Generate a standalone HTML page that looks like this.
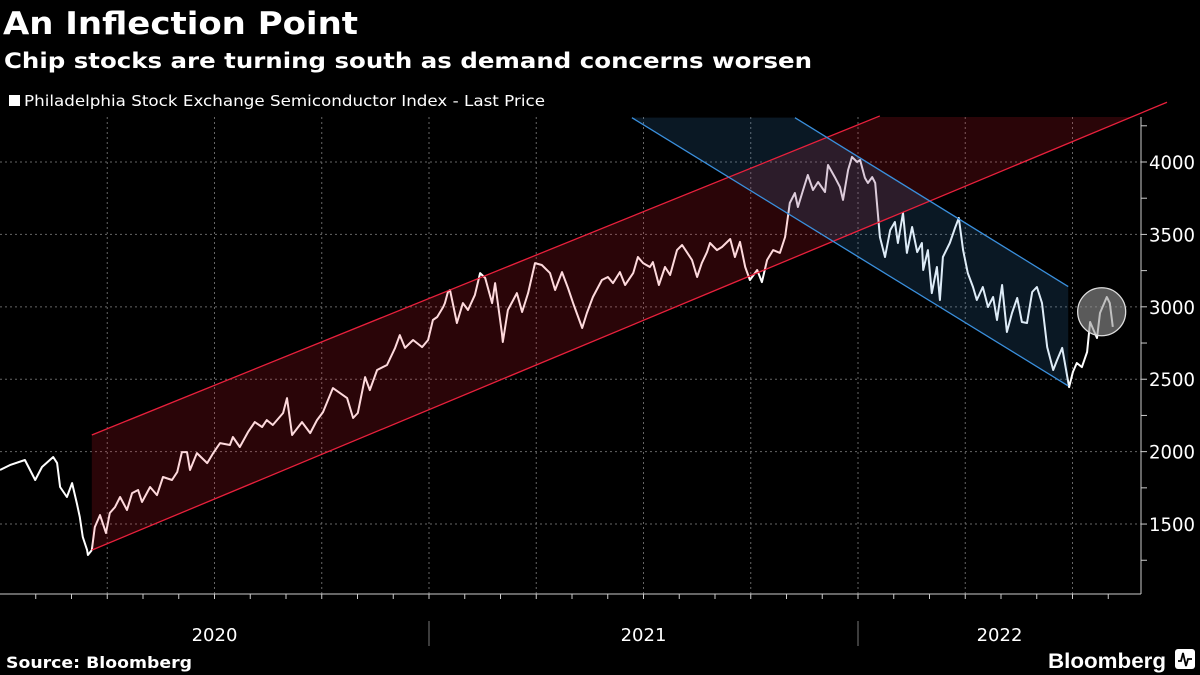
<!DOCTYPE html>
<html><head><meta charset="utf-8"><style>
body{margin:0;background:#000;width:1200px;height:675px;overflow:hidden;font-family:"DejaVu Sans","Liberation Sans",sans-serif;color:#fff}
svg{position:absolute;left:0;top:0}
</style></head><body>
<svg width="1200" height="675" viewBox="0 0 1200 675">
<text x="3" y="34" font-size="31" font-weight="bold" fill="#fff" textLength="355" lengthAdjust="spacingAndGlyphs">An Inflection Point</text>
<text x="4" y="68" font-size="21" font-weight="bold" fill="#fff" textLength="808" lengthAdjust="spacingAndGlyphs">Chip stocks are turning south as demand concerns worsen</text>
<rect x="9" y="95" width="11" height="11" fill="#fff"/>
<text x="24" y="106" font-size="15" fill="#fff" textLength="521" lengthAdjust="spacingAndGlyphs">Philadelphia Stock Exchange Semiconductor Index - Last Price</text>
<g id="grid"></g>
<g id="series"></g>
<g id="overlays"></g>
<g id="axes"></g>
<text x="6" y="668" font-size="16" font-weight="bold" fill="#fff" textLength="186" lengthAdjust="spacingAndGlyphs">Source: Bloomberg</text>
<text x="1048" y="668" font-size="21" font-weight="bold" fill="#fff" font-family="Liberation Sans, sans-serif" textLength="118" lengthAdjust="spacingAndGlyphs">Bloomberg</text>
<g><rect x="1175" y="649" width="20" height="20" rx="3" fill="#fff"/><polyline points="1178,661 1181,661 1183,653 1186,666 1188,659 1192,659" fill="none" stroke="#000" stroke-width="1.8"/></g>
</svg>
<script>
const dates=[0.000,0.023,0.058,0.082,0.098,0.124,0.133,0.140,0.156,0.168,0.179,0.186,0.193,0.203,0.205,0.214,0.221,0.233,0.247,0.256,0.268,0.280,0.296,0.308,0.322,0.331,0.350,0.366,0.380,0.401,0.413,0.424,0.436,0.443,0.459,0.483,0.497,0.513,0.536,0.543,0.559,0.578,0.594,0.611,0.622,0.636,0.660,0.669,0.681,0.704,0.723,0.739,0.753,0.776,0.809,0.823,0.834,0.851,0.862,0.879,0.902,0.921,0.932,0.944,0.963,0.984,0.998,1.009,1.019,1.033,1.037,1.044,1.049,1.065,1.079,1.091,1.107,1.119,1.131,1.147,1.154,1.170,1.172,1.184,1.205,1.217,1.231,1.247,1.263,1.282,1.294,1.310,1.324,1.336,1.357,1.368,1.382,1.403,1.417,1.429,1.445,1.457,1.476,1.487,1.499,1.515,1.522,1.536,1.550,1.562,1.578,1.590,1.601,1.613,1.625,1.636,1.648,1.655,1.671,1.683,1.702,1.713,1.725,1.737,1.748,1.765,1.776,1.788,1.802,1.818,1.830,1.841,1.853,1.860,1.872,1.883,1.895,1.907,1.923,1.930,1.946,1.958,1.965,1.977,1.986,1.998,2.005,2.016,2.023,2.033,2.040,2.051,2.063,2.075,2.086,2.093,2.105,2.114,2.126,2.138,2.149,2.152,2.163,2.172,2.184,2.191,2.198,2.214,2.226,2.235,2.245,2.256,2.268,2.277,2.291,2.303,2.315,2.324,2.336,2.347,2.359,2.371,2.382,2.394,2.406,2.417,2.429,2.441,2.455,2.464,2.476,2.492,2.501,2.510,2.522,2.534,2.541,2.557,2.564,2.580,2.587,2.594];
const prices=[1873,1907,1942,1804,1894,1963,1921,1756,1687,1783,1645,1548,1410,1320,1286,1320,1479,1562,1438,1576,1617,1687,1597,1714,1735,1652,1756,1700,1825,1804,1859,1997,1997,1873,1990,1921,1990,2059,2046,2101,2032,2135,2204,2170,2218,2184,2267,2370,2115,2204,2128,2218,2273,2439,2370,2232,2267,2515,2425,2564,2598,2716,2805,2716,2771,2722,2771,2909,2930,2999,3026,3102,3116,2888,3026,2978,3082,3233,3199,3026,3164,2819,2757,2978,3095,2964,3095,3302,3289,3233,3116,3240,3130,3026,2854,2957,3068,3185,3206,3164,3240,3151,3233,3344,3302,3275,3309,3151,3275,3220,3392,3427,3378,3323,3206,3302,3378,3441,3392,3413,3468,3344,3448,3275,3185,3254,3171,3323,3392,3372,3482,3717,3786,3689,3807,3910,3807,3862,3793,3979,3896,3827,3738,3945,4035,4000,4014,3890,3855,3896,3855,3482,3344,3530,3586,3441,3648,3372,3551,3378,3441,3254,3392,3095,3275,3047,3344,3441,3544,3613,3392,3233,3137,3047,3137,2999,3068,2909,3151,2826,2957,3061,2895,2888,3102,3137,3026,2722,2564,2633,2716,2446,2550,2612,2584,2688,2895,2785,2957,3068,3026,2861];
const yTicks=[1500,2000,2500,3000,3500,4000];
const yearLabels=["2020","2021","2022"];
// channel anchors: [start date, start price, end date, end price]
const redUpper=[0.214,2115,2.051,4318];
const redLower=[0.214,1320,2.483,4120];
const blueUpper=[1.853,4306,2.490,3140];
const blueLower=[1.473,4306,2.490,2454];
const highlight=[2.568,2966];

const NS="http://www.w3.org/2000/svg";
const X0=0,PXY=429,TOP=117,BOT=594,RIGHT=1141;
const xs=d=>X0+d*PXY;
const ys=v=>162+(4000-v)*0.14482;
function mk(tag,attrs,parent){const e=document.createElementNS(NS,tag);for(const k in attrs)e.setAttribute(k,attrs[k]);parent.appendChild(e);return e;}
const grid=document.getElementById('grid'),ser=document.getElementById('series'),ov=document.getElementById('overlays'),ax=document.getElementById('axes');

yTicks.forEach(v=>{const l=mk('line',{x1:0,x2:RIGHT,y1:ys(v),y2:ys(v),stroke:'#666','stroke-dasharray':'2,3','stroke-width':1},grid);

});
for(let q=1;q<=10;q++){const l=mk('line',{x1:xs(q/4),x2:xs(q/4),y1:TOP,y2:BOT,stroke:'#666','stroke-dasharray':'2,3','stroke-width':1},grid);

}

const pts=dates.map((d,i)=>xs(d).toFixed(1)+','+ys(prices[i]).toFixed(1)).join(' ');
const line=mk('polyline',{points:pts,fill:'none',stroke:'#fff','stroke-width':2,'stroke-linejoin':'round'},ser);



function lineAt(seg,d){return seg[1]+(seg[3]-seg[1])*(d-seg[0])/(seg[2]-seg[0]);}
const cp=mk('clipPath',{id:'plotclip'},ov);mk('rect',{x:0,y:TOP,width:RIGHT,height:BOT-TOP},cp);
const rEnd=RIGHT/PXY;
const redPoly=[[redUpper[0],lineAt(redUpper,redUpper[0])],[rEnd,lineAt(redUpper,rEnd)],[rEnd,lineAt(redLower,rEnd)],[redLower[0],redLower[1]]];
const rp=mk('polygon',{points:redPoly.map(p=>xs(p[0])+','+ys(p[1])).join(' '),fill:'rgba(247,30,47,0.17)','clip-path':'url(#plotclip)'},ov);


const bPoly=[[blueLower[0],blueLower[1]],[blueUpper[0],blueUpper[1]],[blueUpper[2],blueUpper[3]],[blueLower[2],blueLower[3]]];
const bp=mk('polygon',{points:bPoly.map(p=>xs(p[0])+','+ys(p[1])).join(' '),fill:'rgba(60,140,215,0.17)','clip-path':'url(#plotclip)'},ov);


const rl1=mk('line',{x1:xs(redUpper[0]),y1:ys(redUpper[1]),x2:xs(redUpper[2]),y2:ys(redUpper[3]),stroke:'#e8203c','stroke-width':1.3},ov);


const rl2=mk('line',{x1:xs(redLower[0]),y1:ys(redLower[1]),x2:1167,y2:ys(lineAt(redLower,1167/PXY)),stroke:'#e8203c','stroke-width':1.3},ov);


const bl1=mk('line',{x1:xs(blueUpper[0]),y1:ys(blueUpper[1]),x2:xs(blueUpper[2]),y2:ys(blueUpper[3]),stroke:'#3a8fdc','stroke-width':1.3},ov);


const bl2=mk('line',{x1:xs(blueLower[0]),y1:ys(blueLower[1]),x2:xs(blueLower[2]),y2:ys(blueLower[3]),stroke:'#3a8fdc','stroke-width':1.3},ov);


const hc=mk('circle',{cx:xs(highlight[0]),cy:ys(highlight[1]),r:24,fill:'rgba(150,150,150,0.6)',stroke:'#ddd','stroke-width':1.3},ov);



const ya=mk('line',{x1:RIGHT,x2:RIGHT,y1:TOP,y2:BOT,stroke:'#ccc','stroke-width':1},ax);


for(let v=1250;v<=4250;v+=250){const t=mk('line',{x1:RIGHT,x2:RIGHT+6,y1:ys(v),y2:ys(v),stroke:'#ccc','stroke-width':1},ax);

}
yTicks.forEach(v=>{const t=mk('text',{x:RIGHT+8,y:ys(v)+7,'font-size':19,fill:'#fff',textLength:46,lengthAdjust:'spacingAndGlyphs'},ax);t.textContent=v;

});
const xa=mk('line',{x1:0,x2:RIGHT,y1:BOT,y2:BOT,stroke:'#ccc','stroke-width':1},ax);


for(let m=1;m<32;m++){const t=mk('line',{x1:xs(m/12),x2:xs(m/12),y1:BOT,y2:BOT+5,stroke:'#ccc','stroke-width':1},ax);

}
yearLabels.forEach((y,i)=>{const cx=i<2?xs(i+0.5):(xs(2)+RIGHT)/2;const t=mk('text',{x:cx,y:641,'font-size':18,fill:'#fff','text-anchor':'middle'},ax);t.textContent=y;


if(i>0){const s=mk('line',{x1:xs(i),x2:xs(i),y1:621,y2:646,stroke:'#777','stroke-width':1},ax);

}});
</script>
</body></html>
